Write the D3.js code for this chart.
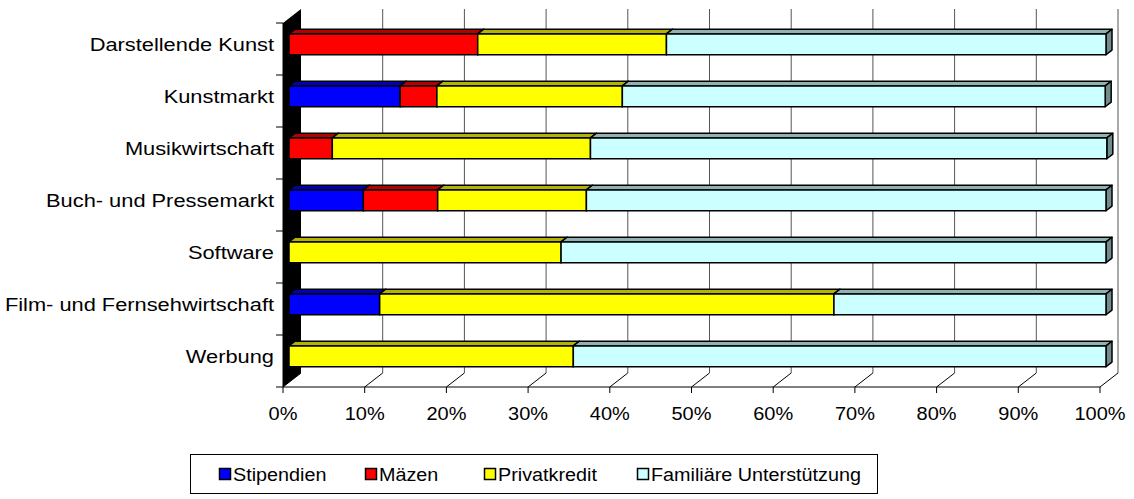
<!DOCTYPE html>
<html>
<head>
<meta charset="utf-8">
<script src="https://cdn.jsdelivr.net/npm/d3@7"></script>
<style>
  body { margin: 0; background: #fff; }
  text { font-family: "Liberation Sans", Arial, sans-serif; fill: #000; }
</style>
</head>
<body>
<div id="chart"></div>
<script>
const categories = ["Darstellende Kunst", "Kunstmarkt", "Musikwirtschaft", "Buch- und Pressemarkt", "Software", "Film- und Fernsehwirtschaft", "Werbung"];
const seriesNames = ["Stipendien", "Mäzen", "Privatkredit", "Familiäre Unterstützung"];
const stipendien = [0, 13.6, 0, 9.1, 0, 11.1, 0];
const maezen = [23.1, 4.5, 5.3, 9.1, 0, 0, 0];
const privatkredit = [23.1, 22.7, 31.6, 18.2, 33.3, 55.6, 34.8];
const familiaer = [53.8, 59.1, 63.2, 63.6, 66.7, 33.3, 65.2];
const xTicks = [0, 10, 20, 30, 40, 50, 60, 70, 80, 90, 100];

const colors = ["#0000FF", "#FF0000", "#FFFF00", "#CCFFFF"];

const width = 1134, height = 499;

// table built from the arrays
const rows = categories.map((c, i) => ({
    cat: c,
    "Stipendien": stipendien[i],
    "Mäzen": maezen[i],
    "Privatkredit": privatkredit[i],
    "Familiäre Unterstützung": familiaer[i]
}));

const svg = d3.select("#chart").append("svg")
    .attr("width", width)
    .attr("height", height);

// 3D depth of the wall/floor
const DX = 18, DY = -14;
// bars sit between 1/3 and 2/3 of the depth
const bx = DX / 3, by = DY / 3;

const x = d3.scaleLinear().domain([0, 100]).range([283, 1100]);
const y = d3.scaleBand().domain(categories).range([23, 387])
    .paddingInner(0.6).paddingOuter(0.3);

const plotTop = 23, plotBottom = 387;

// left wall (black)
svg.append("path")
    .attr("d", `M${x(0)},${plotTop} L${x(0) + DX},${plotTop + DY} L${x(0) + DX},${plotBottom + DY} L${x(0)},${plotBottom} Z`)
    .attr("fill", "#000");

// back wall gridlines
svg.append("g").selectAll("line")
    .data(xTicks.filter(d => d > 0))
    .join("line")
    .attr("x1", d => x(d) + DX).attr("x2", d => x(d) + DX)
    .attr("y1", plotTop + DY).attr("y2", plotBottom + DY)
    .attr("stroke", "#555")
    .attr("stroke-width", 1);

// floor lines
svg.append("g").selectAll("line")
    .data(xTicks)
    .join("line")
    .attr("x1", d => x(d) + DX).attr("y1", plotBottom + DY)
    .attr("x2", d => x(d)).attr("y2", plotBottom)
    .attr("stroke", "#000")
    .attr("stroke-width", 1);

svg.append("line")
    .attr("x1", x(0)).attr("x2", x(100))
    .attr("y1", plotBottom).attr("y2", plotBottom)
    .attr("stroke", "#000");

// x ticks + labels (the original picture is a bit stretched sideways)
const xg = svg.append("g");
xg.selectAll("line")
    .data(xTicks)
    .join("line")
    .attr("x1", d => x(d)).attr("x2", d => x(d))
    .attr("y1", plotBottom).attr("y2", plotBottom + 6)
    .attr("stroke", "#000");
xg.selectAll("text")
    .data(xTicks)
    .join("text")
    .attr("transform", d => `translate(${x(d)},420) scale(1.08,1)`)
    .attr("text-anchor", "middle")
    .style("font-size", "18.5px")
    .text(d => d + "%");

// y axis line + ticks
svg.append("line")
    .attr("x1", x(0)).attr("x2", x(0))
    .attr("y1", plotTop).attr("y2", plotBottom)
    .attr("stroke", "#000");
const step = y.step();
svg.append("g").selectAll("line")
    .data(d3.range(categories.length + 1))
    .join("line")
    .attr("x1", x(0) - 7).attr("x2", x(0))
    .attr("y1", i => plotTop + i * step).attr("y2", i => plotTop + i * step)
    .attr("stroke", "#000");

svg.append("g").selectAll("text")
    .data(categories)
    .join("text")
    .attr("transform", d => `translate(274,${y(d) + y.bandwidth() / 2 + by + 6.5}) scale(1.18,1)`)
    .attr("text-anchor", "end")
    .style("font-size", "18.5px")
    .text(d => d);

// stacked bars
const stack = d3.stack().keys(seriesNames)(rows);

function shade(c, k) {
    const col = d3.rgb(c);
    return d3.rgb(col.r * k, col.g * k, col.b * k).toString();
}

const bars = svg.append("g");
categories.forEach((cat, ci) => {
    const y0 = y(cat) + by, h = y.bandwidth();
    stack.forEach((s, si) => {
        const d = s[ci];
        if (d[1] - d[0] <= 0) return;
        const x0 = x(d[0]) + bx, x1 = x(d[1]) + bx;
        const g = bars.append("g")
            .attr("stroke", "#000")
            .attr("stroke-width", 1.5)
            .attr("stroke-linejoin", "round");
        // top face
        g.append("path")
            .attr("d", `M${x0},${y0} L${x0 + bx},${y0 + by} L${x1 + bx},${y0 + by} L${x1},${y0} Z`)
            .attr("fill", shade(colors[si], 0.7));
        // end face
        g.append("path")
            .attr("d", `M${x1},${y0} L${x1 + bx},${y0 + by} L${x1 + bx},${y0 + by + h} L${x1},${y0 + h} Z`)
            .attr("fill", shade(colors[si], 0.55));
        // front face
        g.append("rect")
            .attr("x", x0).attr("y", y0)
            .attr("width", x1 - x0).attr("height", h)
            .attr("fill", colors[si]);
    });
});

// legend
const legend = svg.append("g");
legend.append("rect")
    .attr("x", 190.5).attr("y", 454.5)
    .attr("width", 687).attr("height", 39)
    .attr("fill", "#fff").attr("stroke", "#000");
const legendX = [219, 365, 484, 637];
const items = legend.selectAll("g.item")
    .data(seriesNames)
    .join("g")
    .attr("class", "item")
    .attr("transform", (d, i) => `translate(${legendX[i]},468)`);
items.append("rect")
    .attr("x", 0.5).attr("y", 0.5)
    .attr("width", 11).attr("height", 11)
    .attr("fill", (d, i) => colors[i])
    .attr("stroke", "#000").attr("stroke-width", 1.5);
items.append("text")
    .attr("transform", "translate(14,12.5) scale(1.07,1)")
    .style("font-size", "18.5px")
    .text(d => d);
</script>
</body>
</html>
